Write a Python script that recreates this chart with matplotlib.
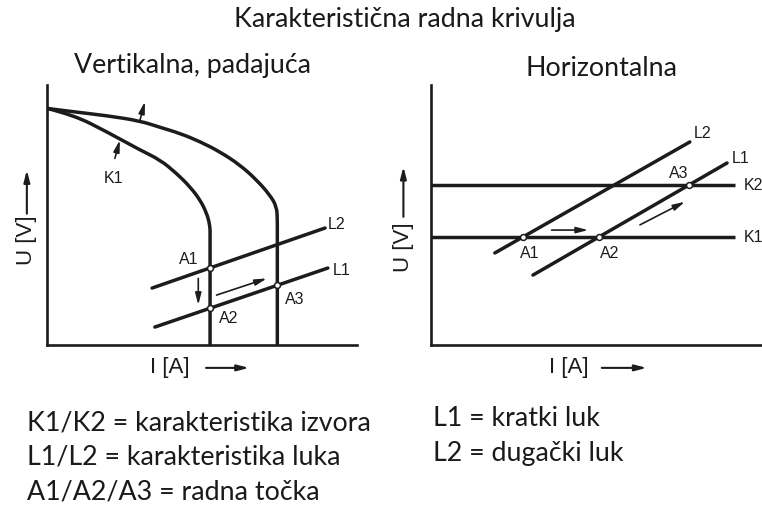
import numpy as np
import matplotlib
matplotlib.use("Agg")
from matplotlib import pyplot as plt
from matplotlib.path import Path
from matplotlib.patches import PathPatch

# ---- left panel: vertical (drooping) source characteristic ----
k1_i = [0.0, 8.5, 19.3, 30.0, 36.5, 41.8, 46.1, 49.4, 51.5, 52.4, 52.6, 52.6]
k1_u = [91.0, 88.5, 82.0, 75.0, 71.2, 66.0, 60.9, 55.8, 50.7, 46.8, 44.2, 0.0]
k2_i = [0.0, 8.5, 19.3, 30.0, 36.5, 42.9, 49.4, 55.8, 62.3, 67.6, 71.9, 74.1, 74.3, 74.3, 74.3]
k2_u = [91.0, 89.7, 88.2, 86.2, 83.7, 81.4, 78.2, 74.3, 69.2, 63.5, 57.7, 53.2, 48.1, 44.2, 0.0]
left_l2_i = [33.9, 89.7]
left_l2_u = [21.9, 45.0]
left_l1_i = [34.8, 90.6]
left_l1_u = [6.9, 29.6]
left_pts_i = [52.6, 52.6, 74.3]
left_pts_u = [29.6, 14.1, 22.9]

# ---- right panel: horizontal (constant voltage) characteristic ----
hk_names = ["K2", "K1"]
hk_u = [61.5, 41.5]
hk_i_end = 98.1
right_l2_i = [20.6, 83.5]
right_l2_u = [35.4, 78.1]
right_l1_i = [32.9, 95.5]
right_l1_u = [26.9, 70.0]
right_pts_i = [29.6, 54.1, 83.2]
right_pts_u = [41.5, 41.5, 61.5]

legend_left = ["K1/K2 = karakteristika izvora",
               "L1/L2 = karakteristika luka",
               "A1/A2/A3 = radna točka"]
legend_right = ["L1 = kratki luk", "L2 = dugački luk"]

W, H = 762, 508
fig = plt.figure(figsize=(W / 100, H / 100), dpi=100)

ink = "#1c1c1c"
lab = dict(family="Liberation Sans", fontsize=11.5, color=ink)
big = dict(family="Liberation Sans", fontsize=16, color=ink)
cal = dict(family="Lato", fontsize=19.3, color="#1a1a1a")
lw = 2.5


def frame(ax, xmax):
    ax.set_xlim(0, xmax)
    ax.set_ylim(0, 100)
    for s in ["top", "right"]:
        ax.spines[s].set_visible(False)
    for s in ["left", "bottom"]:
        ax.spines[s].set_linewidth(1.9)
        ax.spines[s].set_color(ink)
    ax.set_xticks([])
    ax.set_yticks([])
    ax.patch.set_alpha(0)


def smooth_curve(ax, xs, ys):
    # quadratic segments through midpoints, the read points act as control points
    pts = list(zip(xs, ys))
    verts = [pts[0]]
    codes = [Path.MOVETO]
    for a, b in zip(pts[1:-2], pts[2:-1]):
        verts += [a, ((a[0] + b[0]) / 2, (a[1] + b[1]) / 2)]
        codes += [Path.CURVE3, Path.CURVE3]
    verts += [pts[-2], pts[-1]]
    codes += [Path.LINETO, Path.LINETO]
    ax.add_patch(PathPatch(Path(verts, codes), fill=False, edgecolor=ink, lw=lw,
                           capstyle="butt", joinstyle="round", clip_on=False))


def arrow(ax, x0, y0, x1, y1, lwid=1.2):
    ax.annotate("", xy=(x1, y1), xytext=(x0, y0), annotation_clip=False,
                arrowprops=dict(arrowstyle="-|>,head_length=0.7,head_width=0.18",
                                lw=lwid, color=ink, shrinkA=0, shrinkB=0))


def axis_labels(ax, ux, uy, ua0, ua1, ix, iy, ia0, ia1):
    ax.text(ux, uy, "U [V]", rotation=90, ha="center", va="center", clip_on=False, **big)
    arrow(ax, ux, ua0, ux, ua1, lwid=1.5)
    ax.text(ix, iy, "I [A]", ha="center", va="center", clip_on=False, **big)
    arrow(ax, ia0, iy, ia1, iy, lwid=1.5)


# left axes
axL = fig.add_axes([47 / W, (H - 345) / H, 310 / W, 260 / H])
frame(axL, 100)
smooth_curve(axL, k1_i, k1_u)
smooth_curve(axL, k2_i, k2_u)
axL.plot(left_l2_i, left_l2_u, color=ink, lw=lw, solid_capstyle="round")
axL.plot(left_l1_i, left_l1_u, color=ink, lw=lw, solid_capstyle="round")
axL.scatter(left_pts_i, left_pts_u, s=18, facecolor="white", edgecolor=ink, linewidth=1.1, zorder=5)
axL.text(90.6, 46.2, "L2", ha="left", va="center", **lab)
axL.text(92.3, 28.8, "L1", ha="left", va="center", **lab)
axL.text(21.4, 64.1, "K1", ha="center", va="center", **lab)
axL.text(45.6, 32.7, "A1", ha="center", va="center", **lab)
axL.text(58.5, 10.3, "A2", ha="center", va="center", **lab)
axL.text(80.0, 17.6, "A3", ha="center", va="center", **lab)
arrow(axL, 21.9, 71.8, 23.5, 78.8)
arrow(axL, 30.0, 86.5, 31.6, 93.6)
arrow(axL, 48.8, 25.6, 48.8, 15.4)
arrow(axL, 54.7, 19.2, 70.9, 25.6)
axis_labels(axL, -6.5, 40.4, 50.5, 67.3, 39.7, -8.8, 51.3, 65.2)

# right axes
axR = fig.add_axes([431 / W, (H - 345) / H, 331 / W, 260 / H])
frame(axR, 331 / 3.1)
for name, u in zip(hk_names, hk_u):
    axR.plot([0, hk_i_end], [u, u], color=ink, lw=lw, solid_capstyle="butt")
    axR.text(100.8, u, name, ha="left", va="center", clip_on=False, **lab)
axR.plot(right_l2_i, right_l2_u, color=ink, lw=lw, solid_capstyle="round")
axR.plot(right_l1_i, right_l1_u, color=ink, lw=lw, solid_capstyle="round")
axR.scatter(right_pts_i, right_pts_u, s=18, facecolor="white", edgecolor=ink, linewidth=1.1, zorder=5)
axR.text(84.6, 81.4, "L2", ha="left", va="center", **lab)
axR.text(97.0, 71.8, "L1", ha="left", va="center", clip_on=False, **lab)
axR.text(31.9, 35.3, "A1", ha="center", va="center", **lab)
axR.text(57.7, 35.3, "A2", ha="center", va="center", **lab)
axR.text(79.8, 66.0, "A3", ha="center", va="center", **lab)
arrow(axR, 38.9, 44.2, 50.7, 44.2)
arrow(axR, 67.4, 46.2, 81.9, 55.1)
axis_labels(axR, -8.9, 37.8, 49.3, 68.6, 44.3, -8.8, 55.1, 69.6)

# titles
fig.text(405 / W, 1 - 20 / H, "Karakteristična radna krivulja", ha="center", va="center", **cal)
fig.text(193 / W, 1 - 65 / H, "Vertikalna, padajuća", ha="center", va="center", **cal)
fig.text(602 / W, 1 - 68 / H, "Horizontalna", ha="center", va="center", **cal)

# explanation text
for k, line in enumerate(legend_left):
    fig.text(27 / W, 1 - (423 + 34.5 * k) / H, line, ha="left", va="center", **cal)
for k, line in enumerate(legend_right):
    fig.text(433 / W, 1 - (418 + 35 * k) / H, line, ha="left", va="center", **cal)

fig.savefig("out.png", dpi=100, facecolor="white")
